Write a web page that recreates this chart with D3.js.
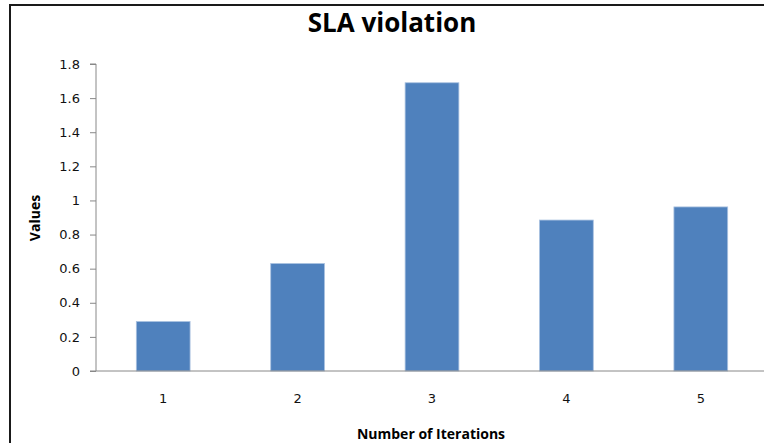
<!DOCTYPE html>
<html>
<head>
<meta charset="utf-8">
<script src="https://cdn.jsdelivr.net/npm/d3@7"></script>
<style>
  body { margin: 0; background: #fff; }
  svg { display: block; }
  .axis path, .axis line { stroke: #888; }
  .label { font-family: "Open Sans", "Liberation Sans", sans-serif; font-weight: bold; fill: #000; }
</style>
</head>
<body>
<svg id="chart" width="764" height="443"></svg>
<script>
// chart data
var iterations = ['1', '2', '3', '4', '5'];
var slaValues = [0.29, 0.63, 1.69, 0.885, 0.962];
var yTicks = [0, 0.2, 0.4, 0.6, 0.8, 1, 1.2, 1.4, 1.6, 1.8];

(function (d3) {
  'use strict';
  var svg = d3.select('#chart');
  var left = 96, right = 768, top = 64, bottom = 371;

  var styleTicks = function (g) {
    g.attr('font-family', '"DejaVu Sans", Verdana, sans-serif').attr('font-size', 13);
    g.selectAll('.tick text').attr('fill', '#111');
  };

  // frame (right and bottom edges are cut off in the original)
  svg.append('line').attr('x1', 10).attr('x2', 764).attr('y1', 5).attr('y2', 5)
    .attr('stroke', '#1a1a1a').attr('stroke-width', 2);
  svg.append('line').attr('x1', 10).attr('x2', 10).attr('y1', 4).attr('y2', 443)
    .attr('stroke', '#1a1a1a').attr('stroke-width', 2);

  var x = d3.scaleBand().domain(iterations).range([left, right])
    .paddingInner(0.6).paddingOuter(0.3);
  var y = d3.scaleLinear().domain([0, 1.8]).range([bottom, top]);

  var yAxis = svg.append('g').attr('class', 'axis')
    .attr('transform', 'translate(' + left + ',0)')
    .call(d3.axisLeft(y).tickValues(yTicks).tickSize(6).tickPadding(10)
      .tickFormat(function (d) { return String(+d.toFixed(1)); }))
    .call(styleTicks);
  yAxis.select('.domain').attr('d', 'M-6,' + top + 'H0V' + bottom);

  svg.selectAll('.bar').data(slaValues).enter().append('rect')
    .attr('class', 'bar')
    .attr('x', function (d, i) { return x(iterations[i]); })
    .attr('width', x.bandwidth())
    .attr('y', function (d) { return y(d); })
    .attr('height', function (d) { return bottom - y(d); })
    .attr('fill', '#4f81bd')
    .attr('stroke', '#a9c1e0').attr('stroke-width', 0.8);

  var xAxis = svg.append('g').attr('class', 'axis')
    .attr('transform', 'translate(0,' + bottom + ')')
    .call(d3.axisBottom(x).tickSize(0).tickPadding(23))
    .call(styleTicks);
  xAxis.select('.domain').attr('d', 'M' + (left - 6) + ',0H' + right);

  svg.append('text').attr('class', 'label')
    .attr('x', 392).attr('y', 32).attr('text-anchor', 'middle')
    .attr('font-size', 26).text('SLA violation');

  svg.append('text').attr('class', 'label')
    .attr('x', 431).attr('y', 439).attr('text-anchor', 'middle')
    .attr('font-size', 14).text('Number of Iterations');

  svg.append('text').attr('class', 'label')
    .attr('transform', 'translate(40,218) rotate(-90)')
    .attr('text-anchor', 'middle')
    .attr('font-size', 14).text('Values');
})(d3);
</script>
</body>
</html>
